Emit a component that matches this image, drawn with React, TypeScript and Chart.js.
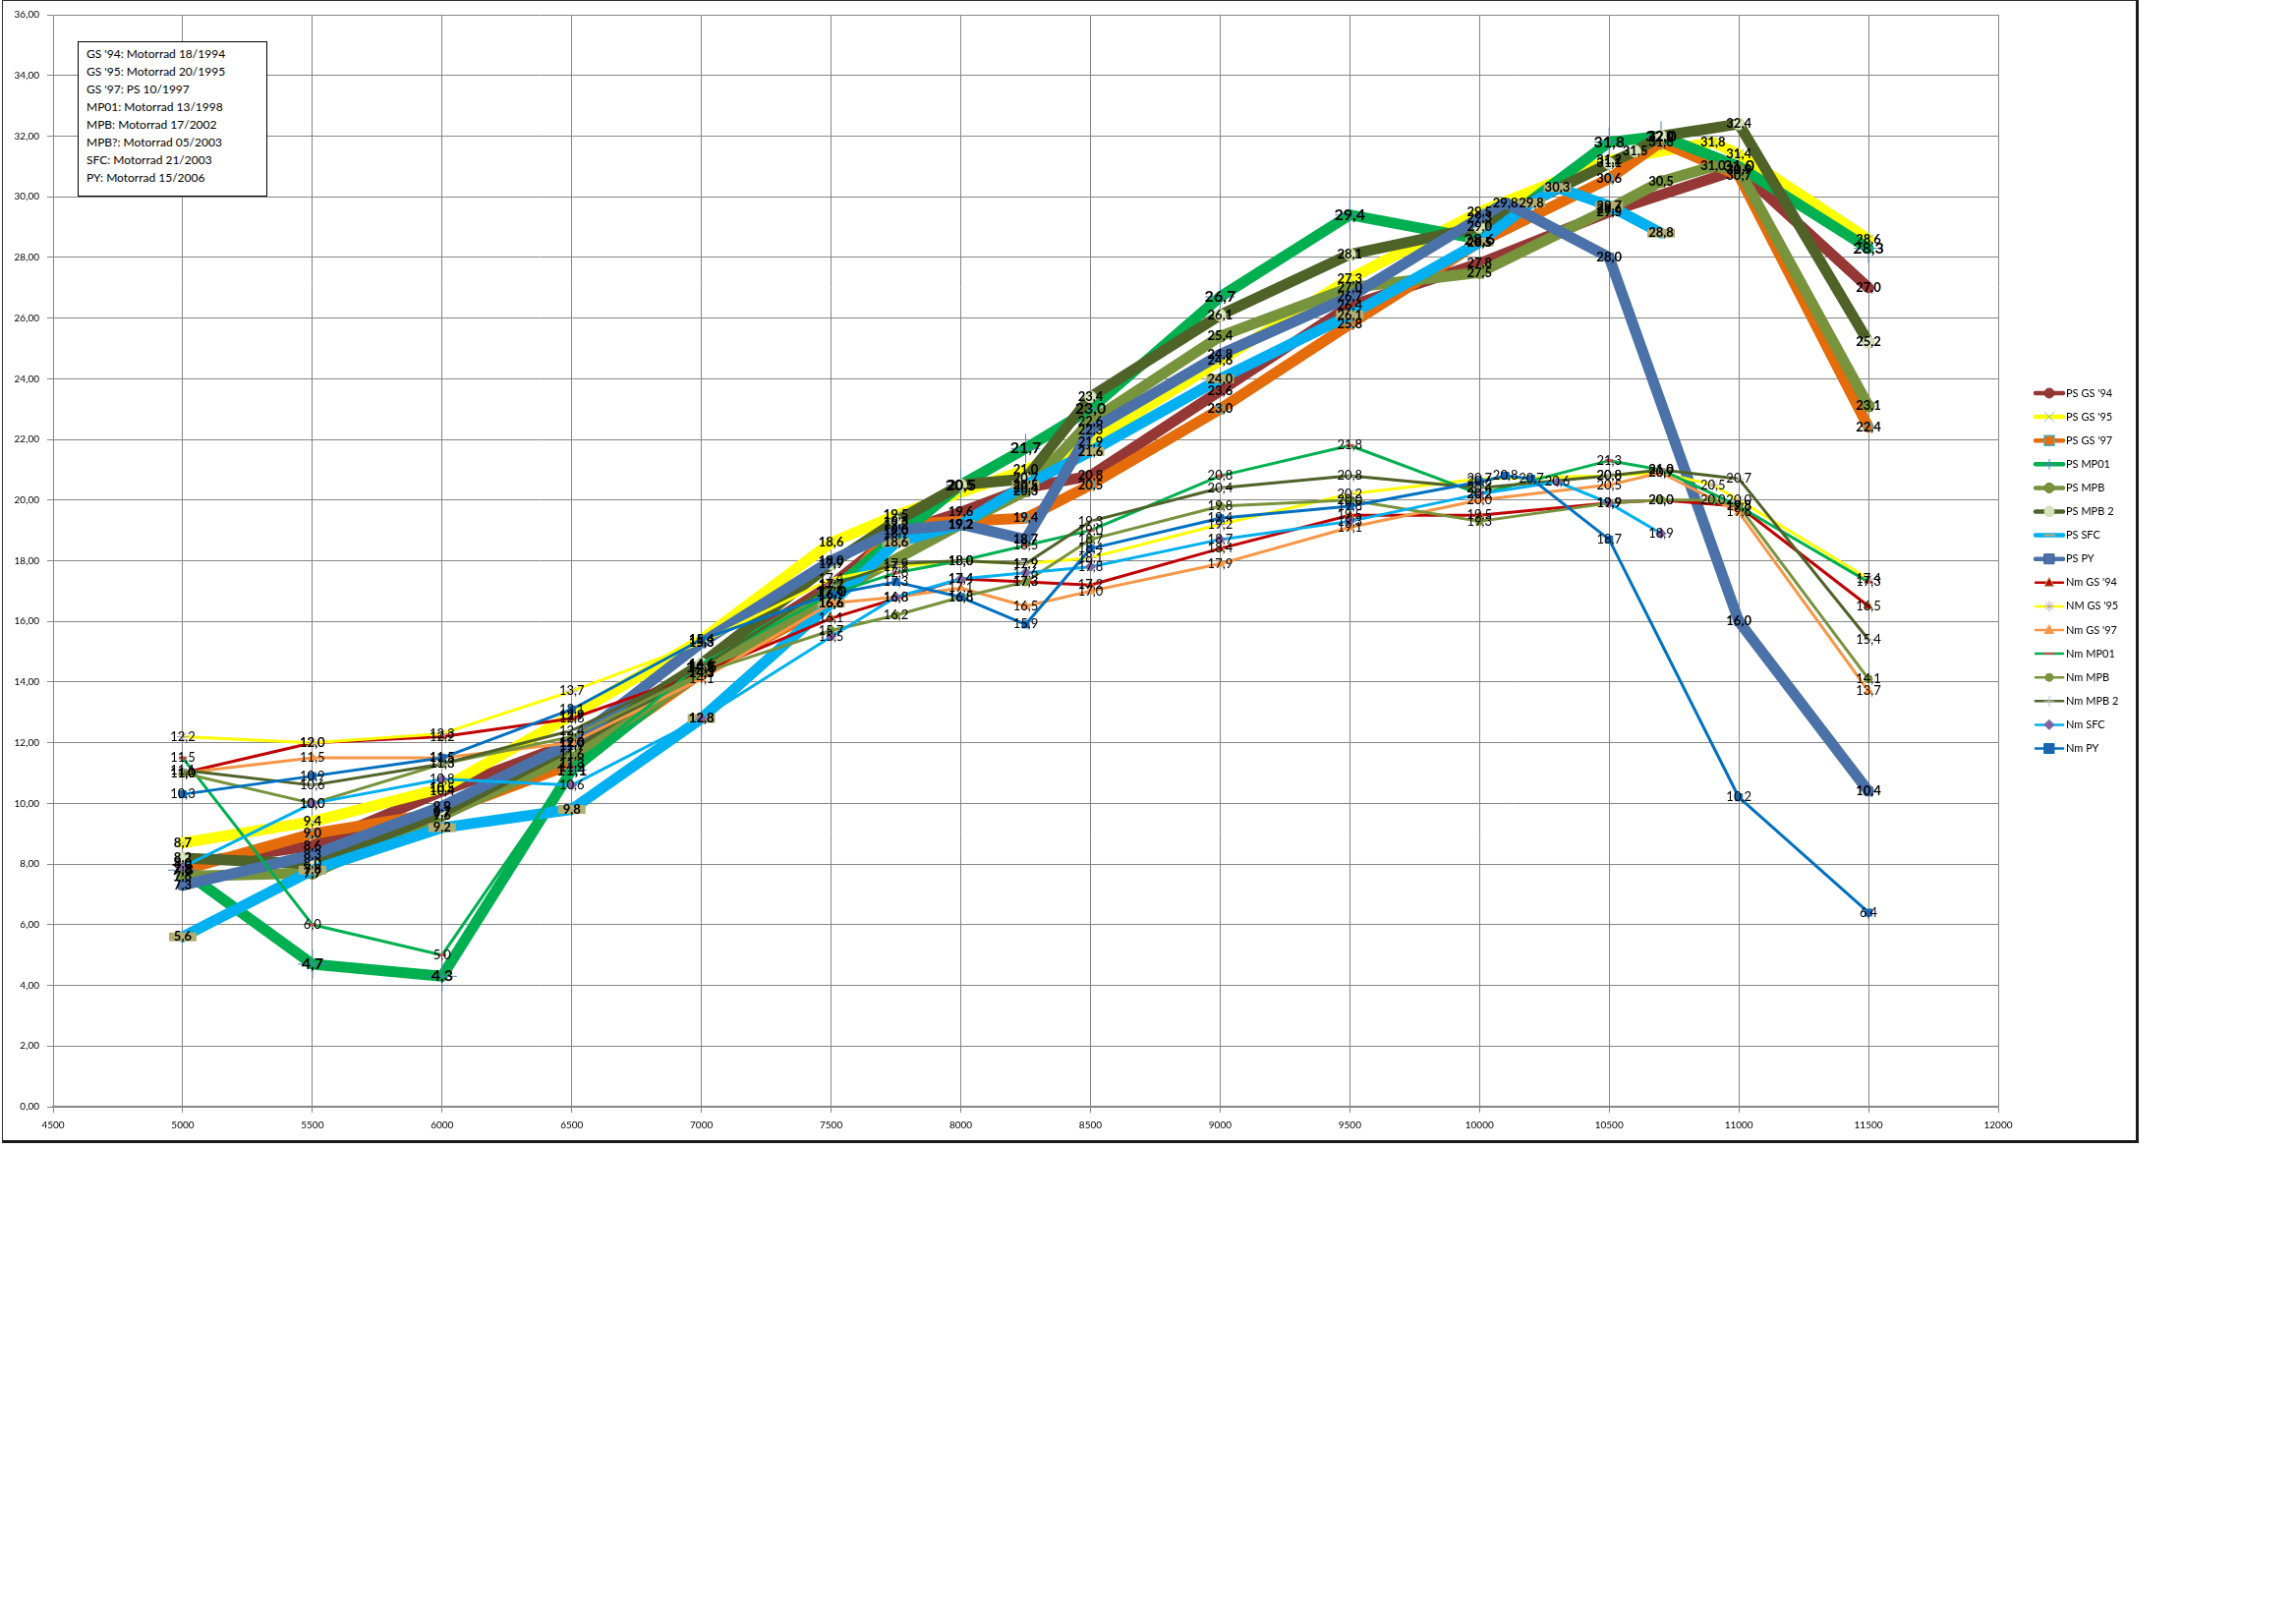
import React, { useEffect, useRef } from 'react';
import { Chart, registerables } from 'chart.js';

Chart.register(...registerables);

// ---------- data (rpm / value pairs per series) ----------
const psGs94Rpm = [5000, 5500, 6000, 6500, 7000, 7500, 7750, 8000, 8250, 8500, 9000, 9500, 10000, 10500, 11000, 11500];
const psGs94 = [8.0, 8.6, 10.4, 12.0, 14.5, 17.2, 18.9, 19.6, 20.4, 20.8, 23.6, 26.4, 27.8, 29.5, 30.9, 27.0];

const psGs95Rpm = [5000, 5500, 6000, 6500, 7000, 7500, 7750, 8250, 8500, 9000, 9500, 10000, 10500, 10900, 11000, 11500];
const psGs95 = [8.7, 9.4, 10.5, 12.9, 15.4, 18.6, 19.5, 21.0, 21.9, 24.6, 27.3, 29.5, 31.2, 31.8, 31.4, 28.6];

const psGs97Rpm = [5000, 5500, 6000, 6500, 7000, 7500, 7750, 8250, 8500, 9000, 9500, 10000, 10500, 10700, 11000, 11500];
const psGs97 = [7.8, 9.0, 9.7, 11.3, 14.3, 16.6, 19.2, 19.4, 20.5, 23.0, 25.8, 28.5, 30.6, 31.8, 30.7, 22.4];

const psMp01Rpm = [5000, 5500, 6000, 6500, 7000, 7500, 8000, 8250, 8500, 9000, 9500, 10000, 10500, 10700, 11000, 11500];
const psMp01 = [7.8, 4.7, 4.3, 11.1, 14.5, 17.0, 20.5, 21.7, 23.0, 26.7, 29.4, 28.6, 31.8, 32.0, 31.0, 28.3];

const psMpbRpm = [5000, 5500, 6000, 6500, 7000, 7500, 8000, 8250, 8500, 9000, 9500, 10000, 10500, 10700, 10900, 11000, 11500];
const psMpb = [7.6, 7.7, 9.6, 11.6, 14.3, 16.9, 19.2, 20.3, 22.6, 25.4, 27.0, 27.5, 29.6, 30.5, 31.0, 30.9, 23.1];

const psMpb2Rpm = [5000, 5500, 6000, 6500, 7000, 7500, 7750, 8000, 8250, 8500, 9000, 9500, 10000, 10500, 10600, 10700, 11000, 11500];
const psMpb2 = [8.2, 8.0, 9.7, 11.9, 14.6, 17.9, 19.3, 20.5, 20.7, 23.4, 26.1, 28.1, 29.0, 31.1, 31.5, 32.0, 32.4, 25.2];

const psSfcRpm = [5000, 5500, 6000, 6500, 7000, 7500, 7750, 8000, 8250, 8500, 9000, 9500, 10000, 10200, 10300, 10500, 10700];
const psSfc = [5.6, 7.8, 9.2, 9.8, 12.8, 16.6, 18.6, 19.2, 20.5, 21.6, 24.0, 26.1, 28.5, 29.8, 30.3, 29.7, 28.8];

const psPyRpm = [5000, 5500, 6000, 6500, 7000, 7500, 7750, 8000, 8250, 8500, 9000, 9500, 10000, 10100, 10500, 11000, 11500];
const psPy = [7.3, 8.3, 9.9, 12.0, 15.3, 18.0, 19.0, 19.2, 18.7, 22.3, 24.8, 26.7, 29.3, 29.8, 28.0, 16.0, 10.4];

const nmGs94Rpm = [5000, 5500, 6000, 6500, 7000, 7500, 8000, 8250, 8500, 9000, 9500, 10000, 10500, 10700, 11000, 11500];
const nmGs94 = [11.0, 12.0, 12.2, 12.8, 14.3, 16.1, 17.4, 17.3, 17.2, 18.4, 19.5, 19.5, 19.9, 20.0, 19.8, 16.5];

const nmGs95Rpm = [5000, 5500, 6000, 6500, 7000, 7500, 7750, 8000, 8250, 8500, 9000, 9500, 10000, 10500, 10700, 10900, 11000, 11500];
const nmGs95 = [12.2, 12.0, 12.3, 13.7, 15.3, 17.4, 17.8, 18.0, 17.9, 18.1, 19.2, 20.2, 20.7, 20.8, 20.9, 20.5, 20.0, 17.4];

const nmGs97Rpm = [5000, 5500, 6000, 6500, 7000, 7500, 7750, 8000, 8250, 8500, 9000, 9500, 10000, 10500, 10700, 11000, 11500];
const nmGs97 = [11.0, 11.5, 11.5, 12.0, 14.1, 16.6, 16.8, 17.1, 16.5, 17.0, 17.9, 19.1, 20.0, 20.5, 20.9, 19.6, 13.7];

const nmMp01Rpm = [5000, 5500, 6000, 6500, 7000, 7500, 7750, 8000, 8250, 8500, 9000, 9500, 10000, 10500, 10700, 11000, 11500];
const nmMp01 = [11.5, 6.0, 5.0, 11.2, 14.6, 16.9, 17.6, 18.0, 18.5, 19.0, 20.8, 21.8, 20.2, 21.3, 21.0, 19.8, 17.3];

const nmMpbRpm = [5000, 5500, 6000, 6500, 7000, 7500, 7750, 8000, 8250, 8500, 9000, 9500, 10000, 10500, 10700, 10900, 11000, 11500];
const nmMpb = [11.0, 10.0, 11.3, 12.2, 14.3, 15.7, 16.2, 16.8, 17.3, 18.7, 19.8, 20.0, 19.3, 19.9, 20.0, 20.0, 19.8, 14.1];

const nmMpb2Rpm = [5000, 5500, 6000, 6500, 7000, 7500, 7750, 8000, 8250, 8500, 9000, 9500, 10000, 10500, 10700, 11000, 11500];
const nmMpb2 = [11.1, 10.6, 11.3, 12.4, 14.5, 17.2, 17.9, 18.0, 17.9, 19.3, 20.4, 20.8, 20.4, 20.8, 21.0, 20.7, 15.4];

const nmSfcRpm = [5000, 5500, 6000, 6500, 7000, 7500, 7750, 8000, 8250, 8500, 9000, 9500, 10000, 10300, 10500, 10700];
const nmSfc = [7.9, 10.0, 10.8, 10.6, 12.8, 15.5, 16.8, 17.4, 17.6, 17.8, 18.7, 19.3, 20.2, 20.6, 19.9, 18.9];

const nmPyRpm = [5000, 5500, 6000, 6500, 7000, 7500, 7750, 8000, 8250, 8500, 9000, 9500, 10000, 10100, 10200, 10500, 11000, 11500];
const nmPy = [10.3, 10.9, 11.5, 13.1, 15.4, 16.9, 17.3, 16.8, 15.9, 18.4, 19.4, 19.8, 20.6, 20.8, 20.7, 18.7, 10.2, 6.4];

const seriesNames = [
  "PS GS '94", "PS GS '95", "PS GS '97", 'PS MP01', 'PS MPB', 'PS MPB 2', 'PS SFC', 'PS PY',
  "Nm GS '94", "NM GS '95", "Nm GS '97", 'Nm MP01', 'Nm MPB', 'Nm MPB 2', 'Nm SFC', 'Nm PY',
];
const seriesRpm = [psGs94Rpm, psGs95Rpm, psGs97Rpm, psMp01Rpm, psMpbRpm, psMpb2Rpm, psSfcRpm, psPyRpm,
  nmGs94Rpm, nmGs95Rpm, nmGs97Rpm, nmMp01Rpm, nmMpbRpm, nmMpb2Rpm, nmSfcRpm, nmPyRpm];
const seriesValues = [psGs94, psGs95, psGs97, psMp01, psMpb, psMpb2, psSfc, psPy,
  nmGs94, nmGs95, nmGs97, nmMp01, nmMpb, nmMpb2, nmSfc, nmPy];

const sourceNotes = [
  "GS '94: Motorrad 18/1994",
  "GS '95: Motorrad 20/1995",
  "GS '97: PS 10/1997",
  'MP01: Motorrad 13/1998',
  'MPB: Motorrad 17/2002',
  'MPB?: Motorrad 05/2003',
  'SFC: Motorrad 21/2003',
  'PY: Motorrad 15/2006',
];

// ---------- styles ----------
type Sty = {
  color: string; width: number; point: string; pr: number;
  fill: string; stroke: string; pbw: number; bold: boolean; size: number;
};
const STYLES: Sty[] = [
  { color: '#953735', width: 11, point: 'circle', pr: 5, fill: '#953735', stroke: '#953735', pbw: 1, bold: true, size: 13 },
  { color: '#FFFF00', width: 11, point: 'crossRot', pr: 7, fill: 'rgba(0,0,0,0)', stroke: '#95B3D7', pbw: 1, bold: true, size: 13 },
  { color: '#E46C0A', width: 11, point: 'rect', pr: 5, fill: '#E46C0A', stroke: '#4BACC6', pbw: 1.5, bold: true, size: 13 },
  { color: '#00B050', width: 11, point: 'cross', pr: 15, fill: 'rgba(0,0,0,0)', stroke: '#4F81BD', pbw: 1, bold: true, size: 16 },
  { color: '#77933C', width: 11, point: 'circle', pr: 6, fill: '#77933C', stroke: '#6A8535', pbw: 1, bold: true, size: 13 },
  { color: '#4F6228', width: 11, point: 'circle', pr: 6, fill: '#D7E4BD', stroke: '#C3D69B', pbw: 1, bold: true, size: 13 },
  { color: '#00B0F0', width: 11, point: 'line', pr: 14, fill: '#B2AE72', stroke: '#B2AE72', pbw: 9, bold: true, size: 13 },
  { color: '#4A72A9', width: 11, point: 'rect', pr: 6, fill: '#4A72A9', stroke: '#3A5F96', pbw: 1, bold: true, size: 13 },
  { color: '#C00000', width: 3, point: 'triangle', pr: 5, fill: '#C00000', stroke: '#9BBB59', pbw: 1, bold: false, size: 13 },
  { color: '#FFFF00', width: 3, point: 'star', pr: 6, fill: 'rgba(0,0,0,0)', stroke: '#B3A2C7', pbw: 1, bold: false, size: 13 },
  { color: '#F79646', width: 3, point: 'triangle', pr: 5, fill: '#F79646', stroke: '#F79646', pbw: 1, bold: false, size: 13 },
  { color: '#00B050', width: 3, point: 'line', pr: 4, fill: '#C0504D', stroke: '#C0504D', pbw: 3, bold: false, size: 13 },
  { color: '#77933C', width: 3, point: 'circle', pr: 4, fill: '#77933C', stroke: '#77933C', pbw: 1, bold: false, size: 13 },
  { color: '#4F6228', width: 3, point: 'cross', pr: 6, fill: 'rgba(0,0,0,0)', stroke: '#BFBFBF', pbw: 1, bold: false, size: 13 },
  { color: '#00B0F0', width: 3, point: 'rectRot', pr: 5, fill: '#8064A2', stroke: '#8064A2', pbw: 1, bold: false, size: 13 },
  { color: '#0070C0', width: 3, point: 'rect', pr: 5, fill: '#1F63B0', stroke: '#0070C0', pbw: 1, bold: false, size: 13 },
];

const FONT = 'Lato, "Liberation Sans", sans-serif';

function drawMarker(ctx: CanvasRenderingContext2D, st: Sty, x: number, y: number, r: number, lw: number) {
  ctx.save();
  ctx.fillStyle = st.fill;
  ctx.strokeStyle = st.stroke;
  ctx.lineWidth = lw;
  ctx.beginPath();
  switch (st.point) {
    case 'circle':
      ctx.arc(x, y, r, 0, Math.PI * 2); ctx.fill(); ctx.stroke(); break;
    case 'rect':
      ctx.rect(x - r, y - r, 2 * r, 2 * r); ctx.fill(); ctx.stroke(); break;
    case 'rectRot':
      ctx.moveTo(x, y - r); ctx.lineTo(x + r, y); ctx.lineTo(x, y + r); ctx.lineTo(x - r, y); ctx.closePath();
      ctx.fill(); ctx.stroke(); break;
    case 'triangle':
      ctx.moveTo(x, y - r); ctx.lineTo(x + r * 0.9, y + r * 0.7); ctx.lineTo(x - r * 0.9, y + r * 0.7); ctx.closePath();
      ctx.fill(); ctx.stroke(); break;
    case 'cross':
      ctx.moveTo(x - r, y); ctx.lineTo(x + r, y); ctx.moveTo(x, y - r); ctx.lineTo(x, y + r); ctx.stroke(); break;
    case 'crossRot':
      ctx.moveTo(x - r, y - r); ctx.lineTo(x + r, y + r); ctx.moveTo(x - r, y + r); ctx.lineTo(x + r, y - r); ctx.stroke(); break;
    case 'star':
      ctx.moveTo(x - r, y); ctx.lineTo(x + r, y); ctx.moveTo(x, y - r); ctx.lineTo(x, y + r);
      ctx.moveTo(x - r * 0.7, y - r * 0.7); ctx.lineTo(x + r * 0.7, y + r * 0.7);
      ctx.moveTo(x - r * 0.7, y + r * 0.7); ctx.lineTo(x + r * 0.7, y - r * 0.7); ctx.stroke(); break;
    case 'line':
      ctx.moveTo(x - r, y); ctx.lineTo(x + r, y); ctx.stroke(); break;
    default: break;
  }
  ctx.restore();
}

const valueLabels = {
  id: 'valueLabels',
  afterDatasetsDraw(chart: any) {
    const ctx = chart.ctx as CanvasRenderingContext2D;
    ctx.save();
    ctx.textAlign = 'center';
    ctx.textBaseline = 'middle';
    ctx.fillStyle = '#000';
    chart.data.datasets.forEach((_ds: any, i: number) => {
      const st = STYLES[i];
      const meta = chart.getDatasetMeta(i);
      ctx.font = `${st.bold ? 'bold ' : ''}${st.size}px ${FONT}`;
      meta.data.forEach((pt: any, j: number) => {
        const v = seriesValues[i][j];
        ctx.fillText(v.toFixed(1).replace('.', ','), pt.x, pt.y);
      });
    });
    ctx.restore();
  },
};

const sideLegend = {
  id: 'sideLegend',
  afterDraw(chart: any) {
    const ctx = chart.ctx as CanvasRenderingContext2D;
    ctx.save();
    seriesNames.forEach((name, i) => {
      const st = STYLES[i];
      const y = 399 + i * 24.1;
      const x0 = 2068;
      const x1 = 2096;
      ctx.strokeStyle = st.color;
      ctx.lineWidth = st.width > 5 ? 4.5 : 2.5;
      ctx.lineCap = 'round';
      ctx.beginPath();
      ctx.moveTo(x0, y);
      ctx.lineTo(x1, y);
      ctx.stroke();
      const r = st.point === 'line' ? 5 : Math.min(st.pr, 5);
      const lw = st.point === 'line' ? 2 : st.pbw;
      drawMarker(ctx, st, (x0 + x1) / 2, y, r, lw);
      ctx.fillStyle = '#000';
      ctx.font = `11px ${FONT}`;
      ctx.textAlign = 'left';
      ctx.textBaseline = 'middle';
      ctx.fillText(name, 2099, y);
    });
    ctx.restore();
  },
};

const CANVAS_W = 2170;
const CANVAS_H = 1159;

export default function App() {
  const ref = useRef<HTMLCanvasElement | null>(null);

  useEffect(() => {
    if (!ref.current) return;
    const datasets = seriesNames.map((name, i) => ({
      label: name,
      data: seriesRpm[i].map((x, j) => ({ x, y: seriesValues[i][j] })),
      borderColor: STYLES[i].color,
      backgroundColor: STYLES[i].fill,
      borderWidth: STYLES[i].width,
      borderJoinStyle: 'round' as const,
      borderCapStyle: 'round' as const,
      pointStyle: STYLES[i].point as any,
      pointRadius: STYLES[i].pr,
      pointBackgroundColor: STYLES[i].fill,
      pointBorderColor: STYLES[i].stroke,
      pointBorderWidth: STYLES[i].pbw,
      tension: 0,
      fill: false,
      order: -i,
    }));

    const gridColor = '#868686';
    const chart = new Chart(ref.current, {
      type: 'line',
      data: { datasets },
      options: {
        responsive: false,
        maintainAspectRatio: false,
        animation: false,
        events: [],
        layout: { autoPadding: false, padding: { top: 14, right: 140, left: 0, bottom: 0 } },
        plugins: { legend: { display: false }, tooltip: { enabled: false } },
        scales: {
          x: {
            type: 'linear',
            min: 4500,
            max: 12000,
            ticks: {
              stepSize: 500,
              autoSkip: false,
              maxRotation: 0,
              padding: 7,
              color: '#000',
              font: { size: 10, family: FONT },
              callback: (v: any) => String(v),
            },
            grid: { color: gridColor, lineWidth: 1, tickLength: 6 },
            border: { color: gridColor, width: 1.5 },
            afterFit: (s: any) => { s.height = 34; s.paddingLeft = 0; s.paddingRight = 0; },
          },
          y: {
            type: 'linear',
            min: 0,
            max: 36,
            ticks: {
              stepSize: 2,
              padding: 8,
              color: '#000',
              font: { size: 10, family: FONT },
              callback: (v: any) => Number(v).toFixed(2).replace('.', ','),
            },
            grid: { color: gridColor, lineWidth: 1, tickLength: 6 },
            border: { color: gridColor, width: 1 },
            afterFit: (s: any) => { s.width = 51; s.paddingTop = 0; s.paddingBottom = 0; },
          },
        },
      },
      plugins: [valueLabels, sideLegend],
    } as any);
    return () => chart.destroy();
  }, []);

  return (
    <div
      style={{
        position: 'absolute',
        left: 2,
        top: 0,
        width: CANVAS_W,
        height: CANVAS_H,
        background: '#fff',
        borderLeft: '1px solid #303030',
        borderTop: '1px solid #303030',
        borderRight: '3px solid #1a1a1a',
        borderBottom: '3px solid #1a1a1a',
      }}
    >
      <canvas ref={ref} width={CANVAS_W} height={CANVAS_H} style={{ display: 'block', width: CANVAS_W, height: CANVAS_H }} />
      <div
        style={{
          position: 'absolute',
          left: 76,
          top: 41,
          width: 193,
          height: 158,
          boxSizing: 'border-box',
          border: '1px solid #000',
          background: '#fff',
          padding: '3px 0 0 8px',
          fontFamily: FONT,
          fontSize: 12,
          lineHeight: '18px',
          color: '#000',
          whiteSpace: 'nowrap',
        }}
      >
        {sourceNotes.map((n) => (
          <div key={n}>{n}</div>
        ))}
      </div>
    </div>
  );
}
